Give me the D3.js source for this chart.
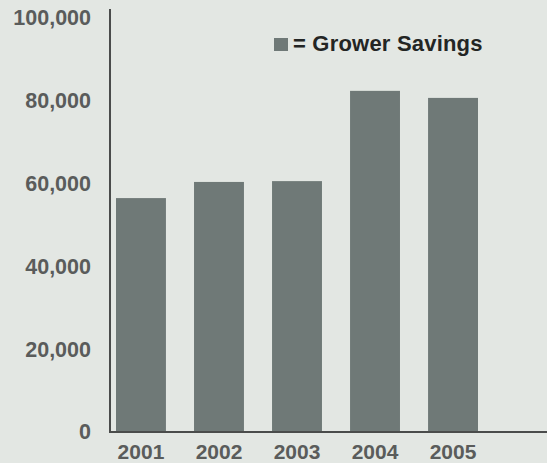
<!DOCTYPE html>
<html>
<head>
<meta charset="utf-8">
<script src="https://cdn.jsdelivr.net/npm/d3@7"></script>
<style>
  html, body { margin: 0; padding: 0; background: #e3e7e3; }
  svg { display: block; }
</style>
</head>
<body>
<svg class="chart" width="547" height="463"></svg>
<script>
// data
var years = ["2001", "2002", "2003", "2004", "2005"];
var savings = [56500, 60400, 60600, 82400, 80700];
var yTicks = [0, 20000, 40000, 60000, 80000, 100000];
var legendLabel = "= Grower Savings";

var svg = d3.select("svg.chart");
var width = 547, height = 463;
var left = 110, baseline = 432, axisTop = 9;

var barColor = "#6f7977",
    axisColor = "#4a4c4b",
    labelColor = "#5a5c5b";

var y = d3.scaleLinear().domain([0, 100000]).range([baseline, 18]);
var x = d3.scaleBand().domain(years).range([left, 484])
    .paddingInner(0.36).paddingOuter(0.077);

// bars
svg.append("g")
    .attr("class", "bars")
    .selectAll("rect")
    .data(years)
    .enter().append("rect")
    .attr("x", function(d){ return x(d); })
    .attr("y", function(d,i){ return y(savings[i]); })
    .attr("width", x.bandwidth())
    .attr("height", function(d,i){ return y(0) - y(savings[i]); })
    .attr("fill", barColor);

// y axis labels
var yAxis = svg.append("g")
    .attr("transform", "translate(" + left + ",0)")
    .call(d3.axisLeft(y).tickValues(yTicks).tickFormat(d3.format(",")).tickSize(0).tickPadding(19));
yAxis.select(".domain").remove();
yAxis.selectAll("text")
    .attr("fill", labelColor)
    .style("font-family", "'Liberation Sans', Arial, sans-serif")
    .style("font-weight", "bold")
    .style("font-size", "21.5px");

// x axis labels
var xAxis = svg.append("g")
    .attr("transform", "translate(0," + baseline + ")")
    .call(d3.axisBottom(x).tickSize(0).tickPadding(12));
xAxis.select(".domain").remove();
xAxis.selectAll("text")
    .attr("fill", labelColor)
    .style("font-family", "'Liberation Sans', Arial, sans-serif")
    .style("font-weight", "bold")
    .style("font-size", "21px");

// axis lines
svg.append("line")
    .attr("x1", left).attr("x2", left)
    .attr("y1", axisTop).attr("y2", baseline)
    .attr("stroke", axisColor).attr("stroke-width", 2);
svg.append("line")
    .attr("x1", left - 1).attr("x2", width)
    .attr("y1", baseline).attr("y2", baseline)
    .attr("stroke", axisColor).attr("stroke-width", 2);

// legend
var legend = svg.append("g").attr("transform", "translate(274,38)");
legend.append("rect")
    .attr("width", 14).attr("height", 13)
    .attr("fill", barColor);
legend.append("text")
    .attr("x", 19).attr("y", 13)
    .attr("fill", "#232524")
    .style("font-family", "'Liberation Sans', Arial, sans-serif")
    .style("font-weight", "bold")
    .style("font-size", "22px")
    .style("letter-spacing", "0.2px")
    .text(legendLabel);
</script>
</body>
</html>
